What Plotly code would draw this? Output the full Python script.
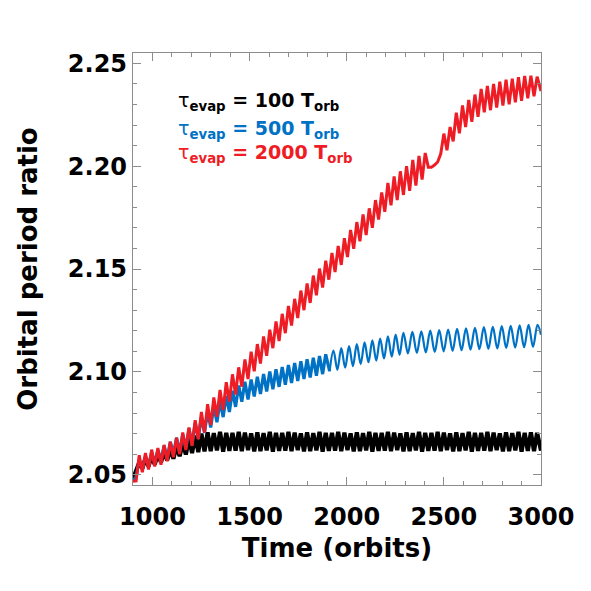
import plotly.graph_objects as go

# time samples shared by the 100 and 2000 T_orb runs
t_grid = [
    900, 916, 932, 948, 964, 980, 996, 1012, 1028, 1044, 1060, 1076, 1092, 1108, 1124, 1140,
    1156, 1172, 1188, 1204, 1220, 1236, 1252, 1268, 1284, 1300, 1316, 1332, 1348, 1364, 1380, 1396,
    1412, 1428, 1444, 1460, 1476, 1492, 1508, 1524, 1540, 1556, 1572, 1588, 1604, 1620, 1636, 1652,
    1668, 1684, 1700, 1716, 1732, 1748, 1764, 1780, 1796, 1812, 1828, 1844, 1860, 1876, 1892, 1908,
    1924, 1940, 1956, 1972, 1988, 2004, 2020, 2036, 2052, 2068, 2084, 2100, 2116, 2132, 2148, 2164,
    2180, 2196, 2212, 2228, 2244, 2260, 2276, 2292, 2308, 2324, 2340, 2356, 2372, 2388, 2404, 2420,
    2436, 2452, 2468, 2484, 2500, 2516, 2532, 2548, 2564, 2580, 2596, 2612, 2628, 2644, 2660, 2676,
    2692, 2708, 2724, 2740, 2756, 2772, 2788, 2804, 2820, 2836, 2852, 2868, 2884, 2900, 2916, 2932,
    2948, 2964, 2980, 3000,
]

# tau_evap = 100 T_orb
ratio_100 = [
    2.048, 2.052, 2.056, 2.053, 2.058, 2.054, 2.059, 2.055, 2.060, 2.056, 2.061, 2.057,
    2.0625, 2.0578, 2.064, 2.059, 2.0655, 2.0598, 2.0675, 2.0605, 2.069, 2.061, 2.070, 2.0613,
    2.0706, 2.0615, 2.0702, 2.0618, 2.0709, 2.0612, 2.0704, 2.0616,
    2.0703, 2.0617, 2.0708, 2.0614, 2.0705, 2.0619, 2.0701, 2.0613,
    2.0706, 2.0615, 2.0702, 2.0618, 2.0709, 2.0612, 2.0704, 2.0616,
    2.0703, 2.0617, 2.0708, 2.0614, 2.0705, 2.0619, 2.0701, 2.0613,
    2.0706, 2.0615, 2.0702, 2.0618, 2.0709, 2.0612, 2.0704, 2.0616,
    2.0703, 2.0617, 2.0708, 2.0614, 2.0705, 2.0619, 2.0701, 2.0613,
    2.0706, 2.0615, 2.0702, 2.0618, 2.0709, 2.0612, 2.0704, 2.0616,
    2.0703, 2.0617, 2.0708, 2.0614, 2.0705, 2.0619, 2.0701, 2.0613,
    2.0706, 2.0615, 2.0702, 2.0618, 2.0709, 2.0612, 2.0704, 2.0616,
    2.0703, 2.0617, 2.0708, 2.0614, 2.0705, 2.0619, 2.0701, 2.0613,
    2.0706, 2.0615, 2.0702, 2.0618, 2.0709, 2.0612, 2.0704, 2.0616,
    2.0703, 2.0617, 2.0708, 2.0614, 2.0705, 2.0619, 2.0701, 2.0613,
    2.0706, 2.0615, 2.0702, 2.0618, 2.0709, 2.0612, 2.0704, 2.0616,
    2.0706, 2.0615, 2.0703, 2.0617,
]

# tau_evap = 2000 T_orb
ratio_2000 = [
    2.0468, 2.0470, 2.0595, 2.0512, 2.0605, 2.0525, 2.0622, 2.0540, 2.0630, 2.0548,
    2.0645, 2.0565, 2.0660, 2.0585, 2.0680, 2.0600, 2.0705, 2.0620, 2.0730, 2.0640,
    2.0765, 2.0672, 2.0805, 2.0705, 2.0843, 2.0742, 2.0876, 2.0782, 2.0912, 2.0815,
    2.0950, 2.0855, 2.0988, 2.0890, 2.1022, 2.0928, 2.1060, 2.0965, 2.1098, 2.1003,
    2.1135, 2.1040, 2.1172, 2.1078, 2.1205, 2.1115, 2.1245, 2.1150, 2.1282, 2.1188,
    2.1320, 2.1225, 2.1355, 2.1262, 2.1395, 2.1300, 2.1430, 2.1335, 2.1468, 2.1372,
    2.1502, 2.1410, 2.1540, 2.1448, 2.1578, 2.1485, 2.1612, 2.1520, 2.1650, 2.1558,
    2.1690, 2.1598, 2.1728, 2.1635, 2.1765, 2.1665, 2.1795, 2.1700, 2.1835, 2.1740,
    2.1872, 2.1778, 2.1918, 2.1810, 2.1950, 2.1835, 2.1975, 2.1860, 2.2000, 2.1880,
    2.2030, 2.1905, 2.2050, 2.1935, 2.2064, 2.1995, 2.1995, 2.2005, 2.2020, 2.2060,
    2.2158, 2.2077, 2.2190, 2.2120, 2.2260, 2.2160, 2.2295, 2.2190, 2.2322, 2.2215,
    2.2348, 2.2240, 2.2375, 2.2262, 2.2390, 2.2272, 2.2400, 2.2285, 2.2410, 2.2295,
    2.2420, 2.2300, 2.2425, 2.2310, 2.2432, 2.2318, 2.2438, 2.2330, 2.2440, 2.2340,
    2.2435, 2.2365,
]

# tau_evap = 500 T_orb
t_500 = [
    900, 916, 932, 948, 964, 980, 996, 1012, 1028, 1044, 1060, 1076, 1092, 1108, 1124, 1140,
    1156, 1172, 1188, 1204, 1220, 1236, 1252, 1268, 1284, 1300, 1316, 1332, 1348, 1364, 1380, 1396,
    1412, 1428, 1444, 1460, 1476, 1492, 1508, 1524, 1540, 1556, 1572, 1588, 1604, 1620, 1636, 1652,
    1668, 1684, 1700, 1716, 1732, 1748, 1764, 1780, 1796, 1812, 1828, 1844, 1860, 1876, 1892,
    1912, 1932, 1952, 1972, 1992, 2012, 2032, 2052, 2072, 2092, 2112, 2132, 2152, 2172, 2192,
    2212, 2232, 2252, 2272, 2292,
    2315, 2338, 2361, 2384, 2407, 2430, 2453, 2476, 2499, 2522, 2545, 2568, 2591, 2614, 2637,
    2660, 2683, 2706, 2729, 2752, 2775, 2798, 2821, 2844, 2867, 2890, 2913, 2936, 2959, 2982, 3000,
]
ratio_500 = [
    2.047, 2.049, 2.057, 2.053, 2.059, 2.054, 2.061, 2.056, 2.062, 2.057, 2.064, 2.058,
    2.066, 2.060, 2.068, 2.061, 2.0695, 2.063, 2.0725, 2.0648, 2.0752, 2.0676, 2.0780, 2.0703,
    2.0808, 2.0730, 2.0833, 2.0755, 2.0858, 2.0780, 2.0884, 2.0805, 2.0908, 2.0830, 2.0934, 2.0855,
    2.0952, 2.0866, 2.0963, 2.0880, 2.0976, 2.0892, 2.0990, 2.0905, 2.1002, 2.0916, 2.1013, 2.0927,
    2.1024, 2.0937, 2.1033, 2.0946, 2.1043, 2.0956, 2.1052, 2.0965, 2.1061, 2.0973, 2.1069, 2.0981,
    2.1077, 2.0989, 2.1085,
    2.1003, 2.1103, 2.1010, 2.1115, 2.1020, 2.1125, 2.1028, 2.1135, 2.1038, 2.1143,
    2.1047, 2.1153, 2.1055, 2.1162, 2.1065, 2.1172, 2.1074, 2.1181, 2.1083, 2.1190,
    2.1090, 2.1194, 2.1092, 2.1197, 2.1095, 2.1200, 2.1097, 2.1203, 2.1100, 2.1206,
    2.1102, 2.1209, 2.1105, 2.1212, 2.1108, 2.1214, 2.1110, 2.1217, 2.1112, 2.1219,
    2.1114, 2.1222, 2.1116, 2.1224, 2.1118, 2.1226, 2.1120, 2.1228, 2.1121, 2.1229, 2.1180,
]

assert len(t_grid) == len(ratio_100) == len(ratio_2000), (len(t_grid), len(ratio_100), len(ratio_2000))
assert len(t_500) == len(ratio_500), (len(t_500), len(ratio_500))

BLACK = "#000000"
BLUE = "#0072c6"
RED = "#ee1c25"
AXIS_GRAY = "#8c8c8c"
FONT = "DejaVu Sans"

fig = go.Figure()

fig.add_trace(go.Scatter(x=t_grid, y=ratio_100, mode="lines",
                         line=dict(color=BLACK, width=4.2)))
# early part of the 500 run is noisy and thick, later part is a clean wave
split = 64
fig.add_trace(go.Scatter(x=t_500[:split], y=ratio_500[:split], mode="lines",
                         line=dict(color=BLUE, width=3.2)))
fig.add_trace(go.Scatter(x=t_500[split - 1:], y=ratio_500[split - 1:], mode="lines",
                         line=dict(color=BLUE, width=2.2, shape="spline")))
fig.add_trace(go.Scatter(x=t_grid, y=ratio_2000, mode="lines",
                         line=dict(color=RED, width=3.0)))

# legend written as coloured labels inside the box
labels = [("100", BLACK, 0.887), ("500", BLUE, 0.822), ("2000", RED, 0.767)]
for val, col, ypos in labels:
    fig.add_annotation(
        xref="paper", yref="paper", x=0.105, y=ypos,
        xanchor="left", yanchor="middle", showarrow=False,
        text=(f"<span style='font-weight:normal'>τ</span><sub>evap</sub>"
              f" = {val} T<sub>orb</sub>"),
        font=dict(family=FONT, size=19, color=col, weight="bold"),
    )

axis_common = dict(
    showline=True, linecolor=AXIS_GRAY, linewidth=1.3, mirror="ticks",
    ticks="inside", ticklen=8, tickwidth=1.2, tickcolor=AXIS_GRAY,
    showgrid=False, zeroline=False, automargin=False,
    tickfont=dict(family=FONT, size=24, color="black", weight="bold"),
)

fig.update_xaxes(
    range=[900, 3000], tick0=1000, dtick=500, ticklabelstandoff=10,
    minor=dict(dtick=100, ticklen=4, tickwidth=1.2, tickcolor=AXIS_GRAY, ticks="inside", showgrid=False),
    title=dict(text="Time (orbits)", font=dict(family=FONT, size=26, color="black", weight="bold"),
               standoff=8),
    **axis_common,
)
fig.update_yaxes(
    range=[2.045, 2.255], tick0=2.05, dtick=0.05, tickformat=".2f",
    minor=dict(dtick=0.01, ticklen=4, tickwidth=1.2, tickcolor=AXIS_GRAY, ticks="inside", showgrid=False),
    title=dict(text="Orbital period ratio", font=dict(family=FONT, size=26, color="black", weight="bold"),
               standoff=22),
    **axis_common,
)

# page body has an 8px margin, so the figure is drawn 8px smaller
fig.update_layout(
    width=583, height=583,
    margin=dict(l=125, r=50, t=45, b=106),
    paper_bgcolor="white", plot_bgcolor="white",
    showlegend=False,
)

fig.write_html("out.html")
